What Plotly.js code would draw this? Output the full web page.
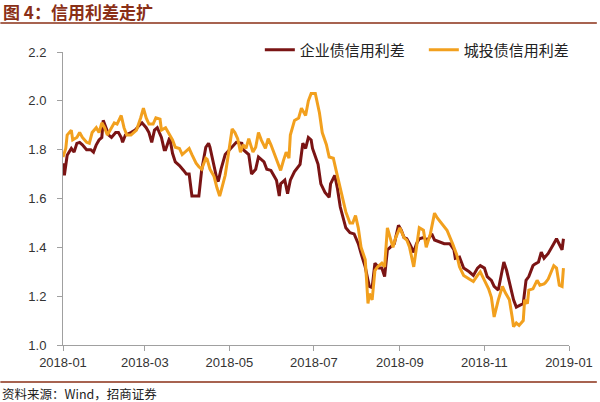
<!DOCTYPE html>
<html>
<head>
<meta charset="utf-8">
<script src="https://cdn.plot.ly/plotly-3.0.1.min.js"></script>
<style>
html,body{margin:0;padding:0;background:#fff;}
#chart{width:600px;height:402px;}
</style>
</head>
<body>
<div id="chart"></div>
<script>
// 企业债信用利差
const corpDates = ["2018-01-01","2018-01-02","2018-01-04","2018-01-07","2018-01-09","2018-01-11","2018-01-13","2018-01-15","2018-01-18","2018-01-21","2018-01-23","2018-01-25","2018-01-27","2018-01-29","2018-01-30","2018-02-01","2018-02-03","2018-02-05","2018-02-08","2018-02-10","2018-02-12","2018-02-13","2018-02-15","2018-02-19","2018-02-22","2018-02-25","2018-02-27","2018-03-02","2018-03-04","2018-03-06","2018-03-08","2018-03-10","2018-03-13","2018-03-15","2018-03-16","2018-03-19","2018-03-21","2018-03-23","2018-03-26","2018-03-29","2018-03-31","2018-04-02","2018-04-04","2018-04-09","2018-04-11","2018-04-14","2018-04-16","2018-04-17","2018-04-20","2018-04-22","2018-04-23","2018-04-25","2018-04-28","2018-05-02","2018-05-06","2018-05-10","2018-05-11","2018-05-15","2018-05-17","2018-05-20","2018-05-22","2018-05-26","2018-05-28","2018-05-31","2018-06-02","2018-06-04","2018-06-06","2018-06-07","2018-06-10","2018-06-12","2018-06-14","2018-06-17","2018-06-21","2018-06-23","2018-06-25","2018-06-27","2018-06-29","2018-06-30","2018-07-04","2018-07-06","2018-07-09","2018-07-12","2018-07-13","2018-07-16","2018-07-18","2018-07-20","2018-07-24","2018-07-27","2018-07-30","2018-08-02","2018-08-04","2018-08-07","2018-08-09","2018-08-10","2018-08-12","2018-08-14","2018-08-17","2018-08-19","2018-08-21","2018-08-23","2018-08-25","2018-08-28","2018-08-31","2018-09-02","2018-09-04","2018-09-06","2018-09-08","2018-09-11","2018-09-13","2018-09-15","2018-09-18","2018-09-21","2018-09-24","2018-09-26","2018-10-03","2018-10-07","2018-10-10","2018-10-11","2018-10-14","2018-10-17","2018-10-21","2018-10-24","2018-10-27","2018-10-29","2018-11-01","2018-11-03","2018-11-06","2018-11-08","2018-11-11","2018-11-15","2018-11-17","2018-11-19","2018-11-22","2018-11-24","2018-11-26","2018-11-29","2018-12-01","2018-12-03","2018-12-06","2018-12-07","2018-12-10","2018-12-12","2018-12-14","2018-12-17","2018-12-21","2018-12-23","2018-12-27","2018-12-28"];
const corpValues = [1.744,1.695,1.777,1.805,1.79,1.826,1.83,1.82,1.80,1.80,1.79,1.82,1.84,1.85,1.92,1.89,1.86,1.85,1.87,1.87,1.85,1.83,1.86,1.87,1.88,1.90,1.91,1.89,1.87,1.83,1.88,1.89,1.85,1.80,1.80,1.85,1.785,1.75,1.735,1.715,1.70,1.70,1.61,1.61,1.715,1.81,1.826,1.81,1.73,1.68,1.67,1.72,1.78,1.805,1.83,1.826,1.80,1.78,1.70,1.72,1.77,1.75,1.72,1.715,1.695,1.675,1.61,1.66,1.675,1.62,1.675,1.71,1.74,1.826,1.805,1.85,1.84,1.805,1.74,1.66,1.625,1.605,1.66,1.695,1.64,1.565,1.48,1.46,1.455,1.415,1.375,1.32,1.265,1.24,1.235,1.335,1.315,1.315,1.28,1.39,1.40,1.415,1.49,1.47,1.44,1.435,1.415,1.38,1.415,1.435,1.44,1.43,1.455,1.43,1.415,1.415,1.39,1.355,1.36,1.315,1.30,1.285,1.315,1.325,1.315,1.28,1.265,1.24,1.225,1.34,1.305,1.26,1.185,1.155,1.16,1.17,1.265,1.28,1.325,1.33,1.34,1.38,1.355,1.375,1.415,1.435,1.39,1.435];

// 城投债信用利差
const cityDates = ["2018-01-01","2018-01-03","2018-01-04","2018-01-07","2018-01-08","2018-01-11","2018-01-13","2018-01-15","2018-01-18","2018-01-20","2018-01-22","2018-01-25","2018-01-27","2018-01-29","2018-01-31","2018-02-02","2018-02-05","2018-02-07","2018-02-09","2018-02-12","2018-02-14","2018-02-16","2018-02-19","2018-02-21","2018-02-23","2018-02-26","2018-02-28","2018-03-02","2018-03-04","2018-03-07","2018-03-09","2018-03-12","2018-03-13","2018-03-16","2018-03-18","2018-03-21","2018-03-23","2018-03-26","2018-03-28","2018-03-30","2018-04-02","2018-04-04","2018-04-07","2018-04-09","2018-04-11","2018-04-14","2018-04-15","2018-04-17","2018-04-20","2018-04-22","2018-04-24","2018-04-25","2018-04-28","2018-04-30","2018-05-03","2018-05-05","2018-05-07","2018-05-09","2018-05-11","2018-05-13","2018-05-15","2018-05-18","2018-05-20","2018-05-22","2018-05-24","2018-05-27","2018-05-29","2018-05-31","2018-06-02","2018-06-04","2018-06-07","2018-06-09","2018-06-11","2018-06-13","2018-06-14","2018-06-17","2018-06-20","2018-06-22","2018-06-25","2018-06-27","2018-06-29","2018-07-02","2018-07-03","2018-07-05","2018-07-07","2018-07-10","2018-07-12","2018-07-15","2018-07-17","2018-07-20","2018-07-22","2018-07-24","2018-07-27","2018-07-29","2018-07-31","2018-08-02","2018-08-04","2018-08-07","2018-08-08","2018-08-09","2018-08-10","2018-08-12","2018-08-14","2018-08-16","2018-08-19","2018-08-21","2018-08-23","2018-08-25","2018-08-27","2018-08-29","2018-09-01","2018-09-04","2018-09-06","2018-09-08","2018-09-11","2018-09-13","2018-09-15","2018-09-18","2018-09-20","2018-09-23","2018-09-26","2018-09-28","2018-10-01","2018-10-05","2018-10-09","2018-10-12","2018-10-14","2018-10-17","2018-10-21","2018-10-24","2018-10-27","2018-10-29","2018-11-01","2018-11-04","2018-11-06","2018-11-08","2018-11-11","2018-11-14","2018-11-16","2018-11-19","2018-11-21","2018-11-22","2018-11-24","2018-11-26","2018-11-29","2018-11-30","2018-12-02","2018-12-03","2018-12-06","2018-12-09","2018-12-11","2018-12-14","2018-12-15","2018-12-17","2018-12-21","2018-12-23","2018-12-25","2018-12-27","2018-12-28"];
const cityValues = [1.77,1.805,1.86,1.88,1.84,1.85,1.87,1.85,1.83,1.826,1.87,1.89,1.87,1.91,1.89,1.86,1.89,1.91,1.905,1.94,1.89,1.86,1.86,1.87,1.88,1.93,1.97,1.93,1.905,1.905,1.93,1.925,1.88,1.89,1.87,1.84,1.81,1.805,1.78,1.79,1.805,1.78,1.745,1.73,1.72,1.765,1.76,1.72,1.69,1.645,1.61,1.63,1.695,1.77,1.885,1.87,1.845,1.79,1.82,1.805,1.845,1.79,1.81,1.87,1.84,1.805,1.845,1.82,1.79,1.765,1.715,1.755,1.79,1.765,1.86,1.92,1.93,1.97,1.94,2.00,2.03,2.03,2.00,1.95,1.87,1.82,1.77,1.765,1.715,1.645,1.60,1.545,1.50,1.50,1.53,1.48,1.40,1.35,1.265,1.17,1.21,1.185,1.305,1.32,1.335,1.32,1.48,1.44,1.40,1.44,1.48,1.44,1.43,1.40,1.32,1.40,1.48,1.47,1.40,1.455,1.54,1.52,1.50,1.47,1.415,1.37,1.32,1.285,1.27,1.26,1.285,1.30,1.265,1.23,1.195,1.115,1.185,1.24,1.215,1.185,1.115,1.075,1.09,1.08,1.10,1.185,1.17,1.225,1.23,1.265,1.245,1.25,1.255,1.27,1.325,1.315,1.245,1.24,1.315];

const seriesNames = ["企业债信用利差", "城投债信用利差"];
const titleText = "图 4：信用利差走扩";
const sourceText = "资料来源：Wind，招商证券";
const yTicks = [1.0, 1.2, 1.4, 1.6, 1.8, 2.0, 2.2];

const W = 600, H = 402;
const M = {l: 63, r: 28, t: 52, b: 57};
const pw = W - M.l - M.r, ph = H - M.t - M.b;
const px = v => (v - M.l) / pw;          // pixel x -> paper
const py = v => (H - M.b - v) / ph;      // pixel y -> paper

const cjk = '"Noto Sans CJK SC", "Noto Sans", sans-serif';
const latin = '"Liberation Sans", Arial, sans-serif';
const brown = '#8a2f16';

const traces = [
  {x: corpDates, y: corpValues, name: seriesNames[0], type: 'scatter', mode: 'lines',
   line: {color: '#7a1414', width: 3}},
  {x: cityDates, y: cityValues, name: seriesNames[1], type: 'scatter', mode: 'lines',
   line: {color: '#f2a01e', width: 3}}
];

const layout = {
  width: W, height: H,
  margin: M,
  paper_bgcolor: '#ffffff', plot_bgcolor: '#ffffff',
  showlegend: true,
  legend: {orientation: 'h', x: px(261), y: py(50), xanchor: 'left', yanchor: 'middle',
    font: {family: cjk, size: 15, color: '#222'}, entrywidth: 119, bgcolor: 'rgba(0,0,0,0)',
    traceorder: 'normal'},
  xaxis: {type: 'date', range: ['2018-01-01', '2019-01-01'], dtick: 'M2', tick0: '2018-01-01',
    tickformat: '%Y-%m', showgrid: false, zeroline: false, showline: true, linecolor: '#a0a0a0',
    linewidth: 1, ticks: 'outside', ticklen: 5, tickcolor: '#a0a0a0',
    tickfont: {family: latin, size: 13, color: '#333'}},
  yaxis: {range: [1.0, 2.2], tickvals: yTicks, tickformat: '.1f', showgrid: false, zeroline: false,
    showline: true, linecolor: '#a0a0a0', linewidth: 1, ticks: 'outside', ticklen: 5,
    tickcolor: '#a0a0a0', ticklabelstandoff: 8,
    tickfont: {family: latin, size: 13, color: '#333'}},
  shapes: [
    {type: 'line', xref: 'paper', yref: 'paper', x0: px(0), x1: px(600), y0: py(23), y1: py(23),
     line: {color: brown, width: 1.5}},
    {type: 'line', xref: 'paper', yref: 'paper', x0: px(0), x1: px(600), y0: py(382), y1: py(382),
     line: {color: brown, width: 1.5}}
  ],
  annotations: [
    {text: '<b>' + titleText + '</b>', xref: 'paper', yref: 'paper', x: px(1), y: py(12),
     xanchor: 'left', yanchor: 'middle', showarrow: false,
     font: {family: cjk, size: 17, color: brown}},
    {text: sourceText, xref: 'paper', yref: 'paper', x: px(0), y: py(393),
     xanchor: 'left', yanchor: 'middle', showarrow: false,
     font: {family: cjk, size: 12.5, color: '#222'}}
  ]
};

Plotly.newPlot('chart', traces, layout, {staticPlot: true, displayModeBar: false});
</script>
</body>
</html>
